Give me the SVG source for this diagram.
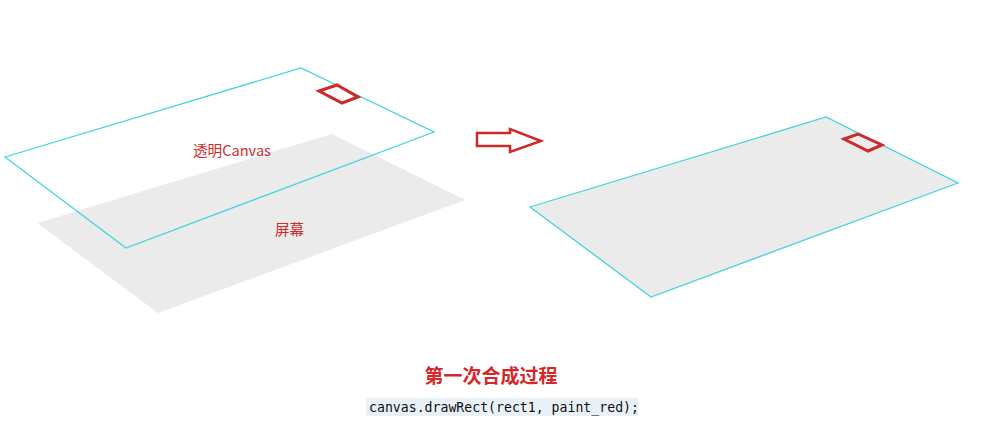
<svg xmlns="http://www.w3.org/2000/svg" width="981" height="444" viewBox="0 0 981 444">
<style>
.scr{fill:#ebebeb;stroke:none}
.cv{fill:none;stroke:#45d3df;stroke-width:1.3}
.cvf{fill:#ebebeb;stroke:#45d3df;stroke-width:1.3}
.red{fill:none;stroke:#cc2b2b;stroke-width:3;stroke-linejoin:miter}
.lbl{font-family:"Noto Sans CJK SC","Noto Sans",sans-serif;font-size:14.6px;fill:#cc2b2b}
.title{font-family:"Noto Sans CJK SC","Noto Sans",sans-serif;font-size:19px;font-weight:bold;fill:#d2282a}
.code{font-family:"DejaVu Sans Mono","Liberation Mono",monospace;font-size:13.2px;fill:#111}
</style>
<rect width="981" height="444" fill="#ffffff"/>
<g id="screen-left">
<polygon class="scr" points="37,223 332,134 465,200 158,313"/>
<text class="lbl" x="275" y="235">屏幕</text>
</g>
<g id="canvas-left">
<polygon class="cv" points="5,157 301,68 434,132 126,248"/>
<polygon class="red" points="319,91 337,85 358,97 342,103"/>
<text class="lbl" x="193" y="156">透明Canvas</text>
</g>
<g id="arrow">
<polygon points="477,133 510,133 510,129 541,141 510,152 510,146 477,146" fill="none" stroke="#cc2b2b" stroke-width="2.5"/>
</g>
<g id="canvas-right">
<polygon class="cvf" points="530,207 826,117 958,183 651,297"/>
<polygon class="red" points="844,139 858,134 882,145 868,151"/>
</g>
<g id="caption">
<text class="title" x="491" y="383" text-anchor="middle">第一次合成过程</text>
<rect x="366" y="398" width="272" height="18" fill="#e8f0f8"/>
<text class="code" x="369" y="412">canvas.drawRect(rect1, paint_red);</text>
</g>
</svg>
